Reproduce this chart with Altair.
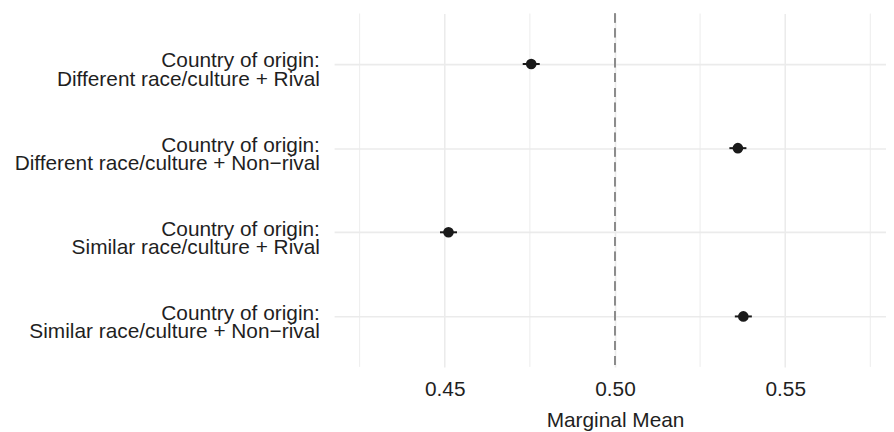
import altair as alt
import pandas as pd

labels = [
    "Country of origin:\nDifferent race/culture + Rival",
    "Country of origin:\nDifferent race/culture + Non\u2212rival",
    "Country of origin:\nSimilar race/culture + Rival",
    "Country of origin:\nSimilar race/culture + Non\u2212rival",
]
estimates = [0.4754, 0.5361, 0.4511, 0.5377]
lower = [0.4729, 0.5336, 0.4486, 0.5352]
upper = [0.4779, 0.5386, 0.4536, 0.5402]

major_ticks = [0.45, 0.50, 0.55]
minor_ticks = [0.425, 0.475, 0.525, 0.575]
x_domain = [0.4175, 0.5796]
reference = 0.5

df = pd.DataFrame({"label": labels, "estimate": estimates, "lower": lower, "upper": upper})
minor_df = pd.DataFrame({"v": minor_ticks})

FONT = "Liberation Sans"
TXT = "#1f1f1f"
GRID = "#EBEBEB"
W, H = 556, 356

xscale = alt.Scale(domain=x_domain, nice=False, zero=False)
yscale = alt.Scale(type="point", padding=0.6)

xaxis = alt.Axis(
    values=major_ticks, format=".2f", title="Marginal Mean",
    labelFont=FONT, labelFontSize=21, labelColor=TXT,
    labelBaseline="alphabetic", labelPadding=28.7,
    ticks=False, tickSize=0, domain=False,
    grid=True, gridColor=GRID, gridWidth=1.6,
    titleFont=FONT, titleFontSize=21, titleFontWeight="normal", titleColor=TXT,
    titleBaseline="alphabetic", titleY=60, titleX=283, titleAlign="center",
)
yaxis = alt.Axis(
    title=None, labelExpr="split(datum.label, '\\n')",
    labelFont=FONT, labelFontSize=21, labelColor=TXT,
    labelAlign="right", labelBaseline="alphabetic", labelOffset=3,
    labelLineHeight=18.5, labelPadding=14.8, labelLimit=500,
    ticks=False, tickSize=0, domain=False,
    grid=True, gridColor=GRID, gridWidth=1.6,
)

minor = alt.Chart(minor_df).mark_rule(color=GRID, strokeWidth=0.9).encode(
    x=alt.X("v:Q", scale=xscale, axis=xaxis)
)

dashed = alt.Chart(df).mark_rule(color="#8c8c8c", strokeWidth=1.5, strokeDash=[9, 6]).encode(
    x=alt.datum(reference, type="quantitative", scale=xscale)
)

bars = alt.Chart(df).mark_rule(color="#1a1a1a", strokeWidth=2).encode(
    x=alt.X("lower:Q", scale=xscale, axis=xaxis),
    x2="upper:Q",
    y=alt.Y("label:N", sort=labels, scale=yscale, axis=yaxis),
)

points = alt.Chart(df).mark_circle(color="#1a1a1a", size=115, opacity=1).encode(
    x=alt.X("estimate:Q", scale=xscale, axis=xaxis),
    y=alt.Y("label:N", sort=labels, scale=yscale, axis=yaxis),
)

chart = alt.layer(minor, dashed, bars, points).properties(
    width=W, height=H,
    autosize=alt.AutoSizeParams(type="none"),
    padding={"left": 328.5, "top": 4, "right": 0, "bottom": 64},
    background="white",
).configure_view(stroke=None)

chart.save("out.html", embed_options={"renderer": "svg", "actions": False})
